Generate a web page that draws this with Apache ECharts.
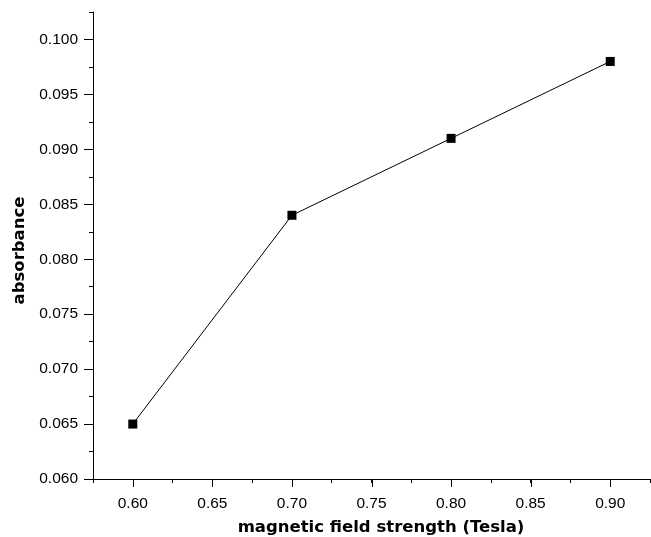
<!DOCTYPE html>
<html>
<head>
<meta charset="utf-8">
<script src="https://cdn.jsdelivr.net/npm/echarts@6/dist/echarts.min.js"></script>
<style>html,body{margin:0;padding:0;background:#fff}#c{width:651px;height:537px}</style>
</head>
<body>
<div id="c"></div>
<script>
var fieldStrength = [0.60, 0.70, 0.80, 0.90];
var absorbance = [0.065, 0.084, 0.091, 0.098];
var xMajorTicks = [0.60, 0.65, 0.70, 0.75, 0.80, 0.85, 0.90];
var yMajorTicks = [0.060, 0.065, 0.070, 0.075, 0.080, 0.085, 0.090, 0.095, 0.100];
var xTitle = 'magnetic field strength (Tesla)';
var yTitle = 'absorbance';

var X_MIN = 0.575, X_MAX = 0.925, Y_MIN = 0.060, Y_MAX = 0.1025;
var FONT = '"Liberation Sans", Arial, Helvetica, sans-serif';
var TITLE_FONT = '"DejaVu Sans", sans-serif';

function isMajor(v, step) {
  return Math.abs(Math.round(v / step) * step - v) < 1e-9;
}

var chart = echarts.init(document.getElementById('c'), null, {renderer: 'canvas'});
chart.setOption({
  animation: false,
  backgroundColor: '#ffffff',
  grid: {left: 93, top: 12, right: 1, bottom: 58, containLabel: false, outerBoundsMode: 'none'},
  xAxis: {
    type: 'value', min: X_MIN, max: X_MAX, interval: 0.025,
    axisLine: {show: true, onZero: false, lineStyle: {color: '#000', width: 1}},
    axisTick: {show: true, inside: false, length: 4, lineStyle: {color: '#000', width: 1}},
    splitLine: {show: false},
    axisLabel: {
      color: '#000', fontSize: 15.5, fontFamily: FONT, margin: 17,
      showMinLabel: true, showMaxLabel: true,
      formatter: function (v) { return isMajor(v, 0.05) ? v.toFixed(2) : ''; }
    },
    name: xTitle, nameLocation: 'middle', nameGap: 40,
    nameTextStyle: {color: '#000', fontSize: 16.5, fontWeight: 'bold', fontFamily: TITLE_FONT, padding: [0, 0, 0, 19]}
  },
  yAxis: {
    type: 'value', min: Y_MIN, max: Y_MAX, interval: 0.0025,
    axisLine: {show: true, onZero: false, lineStyle: {color: '#000', width: 1}},
    axisTick: {show: true, inside: false, length: 4, lineStyle: {color: '#000', width: 1}},
    splitLine: {show: false},
    axisLabel: {
      color: '#000', fontSize: 15.5, fontFamily: FONT, margin: 15,
      formatter: function (v) { return isMajor(v, 0.005) ? v.toFixed(3) : ''; }
    },
    name: yTitle, nameLocation: 'middle', nameGap: 64,
    nameTextStyle: {color: '#000', fontSize: 16.5, fontWeight: 'bold', fontFamily: TITLE_FONT, padding: [0, 10, 0, 0]}
  },
  series: [
    {
      type: 'line',
      data: fieldStrength.map(function (x, i) { return [x, absorbance[i]]; }),
      symbol: 'rect', symbolSize: 9,
      itemStyle: {color: '#000'},
      lineStyle: {color: '#000', width: 1},
      z: 5
    },
    {
      type: 'custom', silent: true, clip: false,
      data: xMajorTicks.map(function (x) { return [x, Y_MIN]; }),
      renderItem: function (params, api) {
        var p = api.coord([api.value(0), api.value(1)]);
        var x = Math.round(p[0]) + 0.5, y = Math.round(p[1]);
        return {type: 'line', shape: {x1: x, y1: y, x2: x, y2: y + 8}, style: {stroke: '#000', lineWidth: 1}};
      }
    },
    {
      type: 'custom', silent: true, clip: false,
      data: yMajorTicks.map(function (y) { return [X_MIN, y]; }),
      renderItem: function (params, api) {
        var p = api.coord([api.value(0), api.value(1)]);
        var x = Math.round(p[0]), y = Math.round(p[1]) + 0.5;
        return {type: 'line', shape: {x1: x, y1: y, x2: x - 9, y2: y}, style: {stroke: '#000', lineWidth: 1}};
      }
    }
  ]
});
</script>
</body>
</html>
